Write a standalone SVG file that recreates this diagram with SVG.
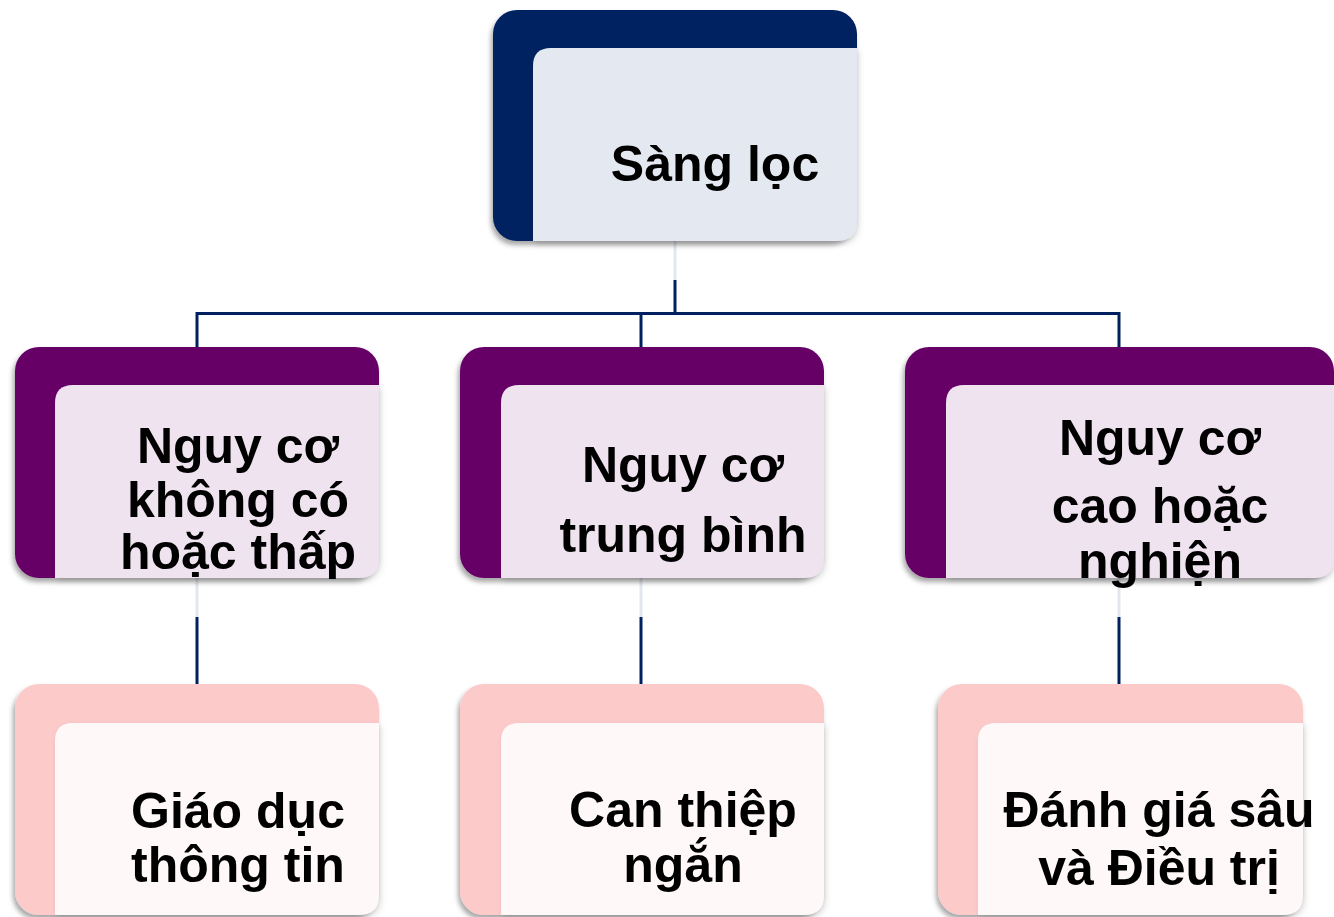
<svg xmlns="http://www.w3.org/2000/svg" width="1334" height="917" viewBox="0 0 1334 917">
<defs>
<filter id="sh" x="-10%" y="-10%" width="120%" height="125%">
<feDropShadow dx="-2" dy="4" stdDeviation="2.5" flood-color="#000" flood-opacity="0.35"/>
</filter>
<filter id="sh2" x="-10%" y="-10%" width="120%" height="125%">
<feDropShadow dx="2" dy="3" stdDeviation="3" flood-color="#000" flood-opacity="0.12"/>
</filter>
</defs>
<style>
.t{font-family:"Liberation Sans",Arial,sans-serif;font-weight:bold;font-size:50px;fill:#000;text-anchor:middle}
.ln{stroke:#002060;stroke-width:3;fill:none}
.lt{stroke:#e2e6ef;stroke-width:3;fill:none}
.navy{fill:#002060}
.navyIn{fill:#e4e8f0}
.purp{fill:#660066}
.purpIn{fill:#efe3ef}
.pink{fill:#fdcaca}
.pinkIn{fill:#fff8f8}
</style>
<rect width="1334" height="917" fill="#fff"/>
<g id="connectors">
<line class="lt" x1="675" y1="241" x2="675" y2="280"/>
<line class="ln" x1="675" y1="280" x2="675" y2="313"/>
<polyline class="ln" points="197,348 197,313.5 1119,313.5 1119,348"/>
<line class="ln" x1="641" y1="313" x2="641" y2="348"/>
<line class="lt" x1="197" y1="578" x2="197" y2="617"/>
<line class="ln" x1="197" y1="617" x2="197" y2="684"/>
<line class="lt" x1="641" y1="578" x2="641" y2="617"/>
<line class="ln" x1="641" y1="617" x2="641" y2="684"/>
<line class="lt" x1="1119" y1="578" x2="1119" y2="617"/>
<line class="ln" x1="1119" y1="617" x2="1119" y2="684"/>
</g>
<g id="n-sangloc">
<rect class="navy" x="493" y="10" width="364" height="231" rx="24" filter="url(#sh)"/>
<path class="navyIn" d="M533,241 V66 Q533,48 551,48 H857 V221 Q857,241 837,241 Z" filter="url(#sh2)"/>
<text class="t" x="715" y="181">Sàng lọc</text>
</g>
<g id="n-thap">
<rect class="purp" x="15" y="347" width="364" height="231" rx="24" filter="url(#sh)"/>
<path class="purpIn" d="M55,578 V403 Q55,385 73,385 H379 V558 Q379,578 359,578 Z" filter="url(#sh2)"/>
<text class="t" x="238" y="463">Nguy cơ</text>
<text class="t" x="238" y="517">không có</text>
<text class="t" x="238" y="569">hoặc thấp</text>
</g>
<g id="n-trungbinh">
<rect class="purp" x="460" y="347" width="364" height="231" rx="24" filter="url(#sh)"/>
<path class="purpIn" d="M501,578 V403 Q501,385 519,385 H824 V558 Q824,578 804,578 Z" filter="url(#sh2)"/>
<text class="t" x="683" y="482">Nguy cơ</text>
<text class="t" x="683" y="552">trung bình</text>
</g>
<g id="n-cao">
<rect class="purp" x="905" y="347" width="429" height="231" rx="24" filter="url(#sh)"/>
<path class="purpIn" d="M946,578 V403 Q946,385 964,385 H1334 V558 Q1334,578 1314,578 Z" filter="url(#sh2)"/>
<text class="t" x="1160" y="455">Nguy cơ</text>
<text class="t" x="1160" y="523">cao hoặc</text>
<text class="t" x="1160" y="578">nghiện</text>
</g>
<g id="n-giaoduc">
<rect class="pink" x="15" y="684" width="364" height="231" rx="24" filter="url(#sh)"/>
<path class="pinkIn" d="M55,917 V741 Q55,723 73,723 H379 V895 Q379,915 359,915 H55 Z" filter="url(#sh2)"/>
<text class="t" x="238" y="828">Giáo dục</text>
<text class="t" x="238" y="882">thông tin</text>
</g>
<g id="n-canthiep">
<rect class="pink" x="460" y="684" width="364" height="231" rx="24" filter="url(#sh)"/>
<path class="pinkIn" d="M501,917 V741 Q501,723 519,723 H824 V895 Q824,915 804,915 H501 Z" filter="url(#sh2)"/>
<text class="t" x="683" y="827">Can thiệp</text>
<text class="t" x="683" y="882">ngắn</text>
</g>
<g id="n-danhgia">
<rect class="pink" x="938" y="684" width="365" height="231" rx="24" filter="url(#sh)"/>
<path class="pinkIn" d="M978,917 V741 Q978,723 996,723 H1303 V895 Q1303,915 1283,915 H978 Z" filter="url(#sh2)"/>
<text class="t" x="1159" y="827">Đánh giá sâu</text>
<text class="t" x="1159" y="885">và Điều trị</text>
</g>
</svg>
